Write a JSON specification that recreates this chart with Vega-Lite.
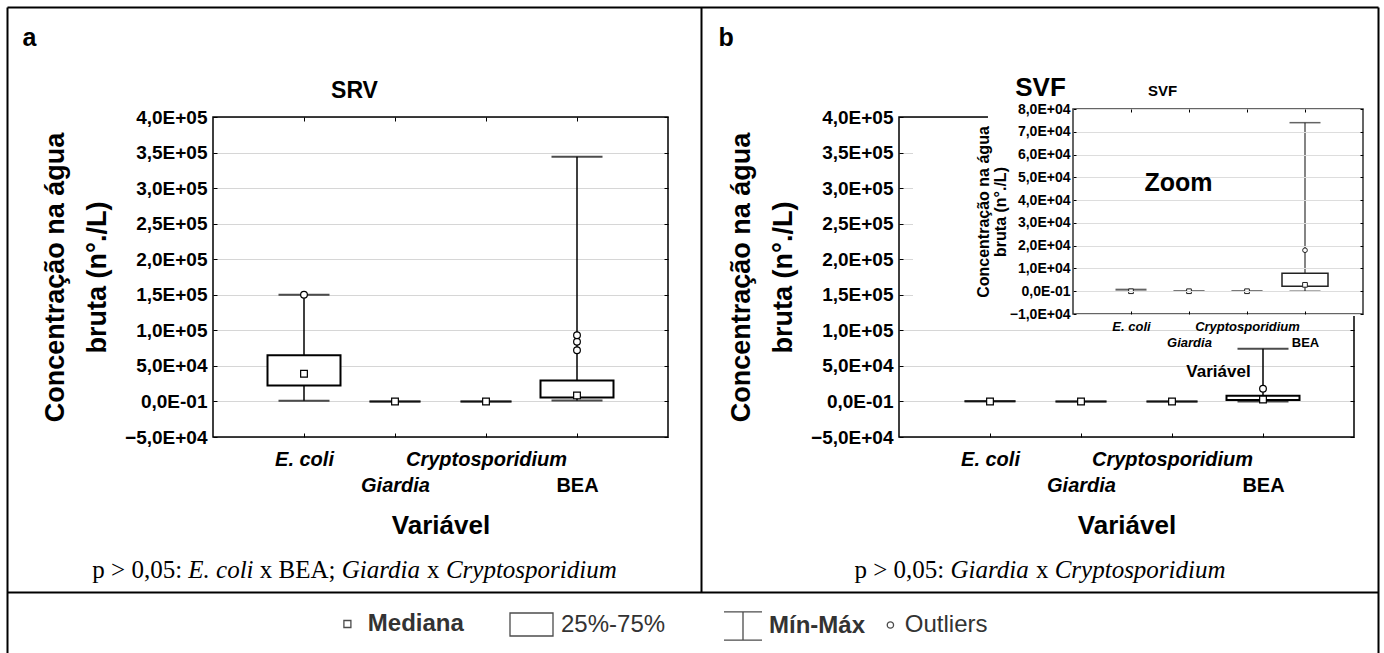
{
  "$schema": "https://vega.github.io/schema/vega-lite/v6.json",
  "width": 1371,
  "height": 646,
  "padding": {"left": 7, "top": 7, "right": 6, "bottom": 0},
  "autosize": {"type": "none"},
  "background": "white",
  "config": {
    "view": {"stroke": null},
    "font": "Liberation Sans",
    "axis": {"labelFont": "Liberation Sans", "titleFont": "Liberation Sans", "labelColor": "black", "titleColor": "black", "labelOverlap": false, "tickColor": "black", "tickWidth": 1, "domainColor": "black", "domainWidth": 2}
  },
  "datasets": {
    "caixas": [
      {"painel": "SRV", "variavel": "E. coli", "minimo": 1000, "q1": 22500, "mediana": 39000, "q3": 65000, "maximo": 150000},
      {"painel": "SRV", "variavel": "Giardia", "minimo": 0, "q1": 0, "mediana": 0, "q3": 0, "maximo": 0},
      {"painel": "SRV", "variavel": "Cryptosporidium", "minimo": 0, "q1": 0, "mediana": 0, "q3": 0, "maximo": 0},
      {"painel": "SRV", "variavel": "BEA", "minimo": 1500, "q1": 5600, "mediana": 8500, "q3": 29600, "maximo": 344000},
      {"painel": "SVF", "variavel": "E. coli", "minimo": 0, "q1": 0, "mediana": 0, "q3": 0, "maximo": 800},
      {"painel": "SVF", "variavel": "Giardia", "minimo": 0, "q1": 0, "mediana": 0, "q3": 0, "maximo": 0},
      {"painel": "SVF", "variavel": "Cryptosporidium", "minimo": 0, "q1": 0, "mediana": 0, "q3": 0, "maximo": 0},
      {"painel": "SVF", "variavel": "BEA", "minimo": 0, "q1": 2200, "mediana": 2800, "q3": 7900, "maximo": 74000}
    ],
    "outliers": [
      {"painel": "SRV", "variavel": "E. coli", "valor": 150000},
      {"painel": "SRV", "variavel": "BEA", "valor": 72000},
      {"painel": "SRV", "variavel": "BEA", "valor": 84000},
      {"painel": "SRV", "variavel": "BEA", "valor": 93000},
      {"painel": "SVF", "variavel": "BEA", "valor": 18000}
    ]
  },
  "resolve": {
    "scale": {"x": "independent", "y": "independent", "shape": "independent"},
    "axis": {"x": "independent", "y": "independent"},
    "legend": {"shape": "independent"}
  },
  "layer": [
    {
      "data": {"values": []},
      "mark": {"type": "point"},
      "encoding": {
        "x": {"datum": 0, "type": "quantitative", "scale": {"domain": [0, 1], "range": [0, 1371], "nice": false, "zero": false},
          "axis": {"orient": "top", "offset": -585, "domain": true, "ticks": false, "labels": false, "grid": false, "title": null}},
        "y": {"datum": 0, "type": "quantitative", "scale": {"domain": [0, 1], "range": [0, 585], "nice": false, "zero": false},
          "axis": {"orient": "left", "offset": -694, "domain": true, "ticks": false, "labels": false, "grid": false, "title": null}}
      }
    },
    {
      "resolve": {"scale": {"x": "independent"}, "axis": {"x": "independent", "y": "independent"}},
      "layer": [
        {
          "data": {"values": [{}]},
          "mark": {"type": "rect", "fill": "white", "fillOpacity": 0, "stroke": "black", "strokeWidth": 1.5},
          "encoding": {
            "x": {"datum": 0, "type": "quantitative", "scale": {"domain": [0, 5], "range": [206, 661], "nice": false, "zero": false},
              "axis": {"orient": "top", "offset": -110, "values": [1, 2, 3, 4], "domain": false, "labels": false, "grid": false, "ticks": true, "tickSize": -4,
                "title": "SRV", "titleX": 347, "titleY": -20, "titleAlign": "center", "titleBaseline": "alphabetic", "titleFontSize": 23, "titleFontWeight": "bold"}},
            "x2": {"datum": 5},
            "y": {"datum": -50000, "type": "quantitative", "scale": {"domain": [-50000, 400000], "range": [430, 110], "nice": false, "zero": false},
              "axis": {"orient": "right", "offset": -710, "values": [-50000, 0, 50000, 100000, 150000, 200000, 250000, 300000, 350000, 400000], "domain": false, "labels": false, "grid": false, "ticks": true, "tickSize": -4,
                "title": "a", "titleAngle": 0, "titleX": -646, "titleY": 38, "titleAlign": "left", "titleBaseline": "alphabetic", "titleFontSize": 25, "titleFontWeight": "bold"}},
            "y2": {"datum": 400000}
          }
        },
        {
          "data": {"name": "caixas"},
          "transform": [{"filter": "datum.painel === 'SRV'"}],
          "encoding": {
            "x": {"field": "variavel", "type": "nominal",
              "scale": {"type": "point", "domain": ["E. coli", "Giardia", "Cryptosporidium", "BEA"], "range": [206, 661], "padding": 1},
              "axis": {"orient": "bottom", "offset": -216, "domain": false, "grid": false, "ticks": true, "tickSize": -4,
                "labelFontSize": 20, "labelFontWeight": "bold", "labelBaseline": "top", "labelAngle": 0,
                "labelFontStyle": {"condition": {"test": "datum.value === 'BEA'", "value": "normal"}, "value": "italic"},
                "labelPadding": {"condition": {"test": "datum.value === 'Giardia' || datum.value === 'BEA'", "value": 42}, "value": 16},
                "title": "Variável", "titleY": 96, "titleBaseline": "alphabetic", "titleFontSize": 26, "titleFontWeight": "bold"}}
          },
          "layer": [
            {
              "mark": {"type": "rule", "stroke": "black", "strokeWidth": 1.5},
              "encoding": {
                "y": {"field": "minimo", "type": "quantitative", "scale": {"domain": [-50000, 400000], "range": [430, 110], "nice": false, "zero": false},
                  "axis": {"orient": "left", "offset": -206, "values": [-50000, 0, 50000, 100000, 150000, 200000, 250000, 300000, 350000, 400000],
                    "labelExpr": "datum.value === 0 ? '0,0E-01' : replace(replace(replace(format(datum.value, '.1e'), '.', ','), 'e+', 'E+0'), 'e-', 'E-0')",
                    "labelFontSize": 19, "labelFontWeight": "bold", "labelPadding": 10, "domain": false, "ticks": true, "tickSize": -4,
                    "grid": true, "gridColor": "#d6d6d6", "gridWidth": 1,
                    "title": ["Concentração na água", "bruta (n°./L)"], "titleFontSize": 27, "titleFontWeight": "bold", "titleAngle": -90,
                    "titleX": -150, "titleBaseline": "alphabetic", "titleLineHeight": 42}},
                "y2": {"field": "maximo"}
              }
            },
            {
              "mark": {"type": "tick", "orient": "horizontal", "size": 51, "thickness": 2, "color": "black"},
              "encoding": {"y": {"field": "maximo", "type": "quantitative"}}
            },
            {
              "mark": {"type": "tick", "orient": "horizontal", "size": 51, "thickness": 2, "color": "black"},
              "encoding": {"y": {"field": "minimo", "type": "quantitative"}}
            },
            {
              "transform": [{"filter": "datum.q3 > datum.q1"}],
              "mark": {"type": "bar", "size": 73, "fill": "white", "stroke": "black", "strokeWidth": 2},
              "encoding": {"y": {"field": "q1", "type": "quantitative"}, "y2": {"field": "q3"}}
            },
            {
              "mark": {"type": "point", "shape": "square", "size": 45, "filled": true, "fill": "white", "stroke": "black", "strokeWidth": 1.2, "opacity": 1},
              "encoding": {"y": {"field": "mediana", "type": "quantitative"}}
            },
            {
              "data": {"name": "outliers"},
              "transform": [{"filter": "datum.painel === 'SRV'"}],
              "mark": {"type": "point", "shape": "circle", "size": 45, "filled": true, "fill": "white", "stroke": "black", "strokeWidth": 1.2, "opacity": 1},
              "encoding": {"y": {"field": "valor", "type": "quantitative"}}
            }
          ]
        }
      ]
    },
    {
      "resolve": {"scale": {"x": "independent"}, "axis": {"x": "independent", "y": "independent"}},
      "layer": [
        {
          "data": {"values": [{}]},
          "mark": {"type": "rect", "fill": "white", "fillOpacity": 0, "stroke": "black", "strokeWidth": 1.5},
          "encoding": {
            "x": {"datum": 0, "type": "quantitative", "scale": {"domain": [0, 5], "range": [892, 1347], "nice": false, "zero": false},
              "axis": {"orient": "top", "offset": -110, "values": [1, 2, 3, 4], "domain": false, "labels": false, "grid": false, "ticks": true, "tickSize": -4,
                "title": "SVF", "titleX": 1033, "titleY": -22, "titleAlign": "center", "titleBaseline": "alphabetic", "titleFontSize": 26, "titleFontWeight": "bold"}},
            "x2": {"datum": 5},
            "y": {"datum": -50000, "type": "quantitative", "scale": {"domain": [-50000, 400000], "range": [430, 110], "nice": false, "zero": false},
              "axis": {"orient": "right", "offset": -24, "values": [-50000, 0, 50000, 100000, 150000, 200000, 250000, 300000, 350000, 400000], "domain": false, "labels": false, "grid": false, "ticks": true, "tickSize": -4,
                "title": "b", "titleAngle": 0, "titleX": -636, "titleY": 38, "titleAlign": "left", "titleBaseline": "alphabetic", "titleFontSize": 25, "titleFontWeight": "bold"}},
            "y2": {"datum": 400000}
          }
        },
        {
          "data": {"name": "caixas"},
          "transform": [{"filter": "datum.painel === 'SVF'"}],
          "encoding": {
            "x": {"field": "variavel", "type": "nominal",
              "scale": {"type": "point", "domain": ["E. coli", "Giardia", "Cryptosporidium", "BEA"], "range": [892, 1347], "padding": 1},
              "axis": {"orient": "bottom", "offset": -216, "domain": false, "grid": false, "ticks": true, "tickSize": -4,
                "labelFontSize": 20, "labelFontWeight": "bold", "labelBaseline": "top", "labelAngle": 0,
                "labelFontStyle": {"condition": {"test": "datum.value === 'BEA'", "value": "normal"}, "value": "italic"},
                "labelPadding": {"condition": {"test": "datum.value === 'Giardia' || datum.value === 'BEA'", "value": 42}, "value": 16},
                "title": "Variável", "titleY": 96, "titleBaseline": "alphabetic", "titleFontSize": 26, "titleFontWeight": "bold"}}
          },
          "layer": [
            {
              "mark": {"type": "rule", "stroke": "black", "strokeWidth": 1.5},
              "encoding": {
                "y": {"field": "minimo", "type": "quantitative", "scale": {"domain": [-50000, 400000], "range": [430, 110], "nice": false, "zero": false},
                  "axis": {"orient": "left", "offset": -892, "values": [-50000, 0, 50000, 100000, 150000, 200000, 250000, 300000, 350000, 400000],
                    "labelExpr": "datum.value === 0 ? '0,0E-01' : replace(replace(replace(format(datum.value, '.1e'), '.', ','), 'e+', 'E+0'), 'e-', 'E-0')",
                    "labelFontSize": 19, "labelFontWeight": "bold", "labelPadding": 10, "domain": false, "ticks": true, "tickSize": -4,
                    "grid": true, "gridColor": "#d6d6d6", "gridWidth": 1,
                    "title": ["Concentração na água", "bruta (n°./L)"], "titleFontSize": 27, "titleFontWeight": "bold", "titleAngle": -90,
                    "titleX": -150, "titleBaseline": "alphabetic", "titleLineHeight": 42}},
                "y2": {"field": "maximo"}
              }
            },
            {
              "mark": {"type": "tick", "orient": "horizontal", "size": 51, "thickness": 2, "color": "black"},
              "encoding": {"y": {"field": "maximo", "type": "quantitative"}}
            },
            {
              "mark": {"type": "tick", "orient": "horizontal", "size": 51, "thickness": 2, "color": "black"},
              "encoding": {"y": {"field": "minimo", "type": "quantitative"}}
            },
            {
              "transform": [{"filter": "datum.q3 > datum.q1"}],
              "mark": {"type": "bar", "size": 73, "fill": "white", "stroke": "black", "strokeWidth": 2},
              "encoding": {"y": {"field": "q1", "type": "quantitative"}, "y2": {"field": "q3"}}
            },
            {
              "mark": {"type": "point", "shape": "square", "size": 45, "filled": true, "fill": "white", "stroke": "black", "strokeWidth": 1.2, "opacity": 1},
              "encoding": {"y": {"field": "mediana", "type": "quantitative"}}
            },
            {
              "data": {"name": "outliers"},
              "transform": [{"filter": "datum.painel === 'SVF'"}],
              "mark": {"type": "point", "shape": "circle", "size": 45, "filled": true, "fill": "white", "stroke": "black", "strokeWidth": 1.2, "opacity": 1},
              "encoding": {"y": {"field": "valor", "type": "quantitative"}}
            }
          ]
        }
      ]
    },
    {
      "resolve": {"scale": {"x": "independent"}, "axis": {"x": "independent", "y": "independent"}},
      "layer": [
        {
          "data": {"values": [{}]},
          "layer": [
            {
              "mark": {"type": "rect", "fill": "white", "stroke": null},
              "encoding": {
                "x": {"datum": -2.759, "type": "quantitative", "scale": {"domain": [0, 5], "range": [1066, 1356], "nice": false, "zero": false}},
                "x2": {"datum": 5.155},
                "y": {"datum": -10900, "type": "quantitative", "scale": {"domain": [-10000, 80000], "range": [307, 102], "nice": false, "zero": false}},
                "y2": {"datum": 73000}
              }
            },
            {
              "mark": {"type": "rect", "fill": "white", "stroke": null},
              "encoding": {
                "x": {"datum": -1.466, "type": "quantitative"},
                "x2": {"datum": 5.155},
                "y": {"datum": 72000, "type": "quantitative"},
                "y2": {"datum": 84000}
              }
            },
            {
              "mark": {"type": "rect", "fill": "white", "stroke": "#333333", "strokeWidth": 1.5},
              "encoding": {
                "x": {"datum": 0, "type": "quantitative",
                  "axis": {"orient": "top", "offset": -102, "values": [1, 2, 3, 4], "domain": false, "labels": false, "grid": false, "ticks": true, "tickSize": -3, "zindex": 1,
                    "title": "SVF", "titleX": 1155, "titleY": -14, "titleAlign": "center", "titleBaseline": "alphabetic", "titleFontSize": 15, "titleFontWeight": "bold"}},
                "x2": {"datum": 5},
                "y": {"datum": -10000, "type": "quantitative",
                  "axis": {"orient": "right", "offset": -15, "values": [-10000, 0, 10000, 20000, 30000, 40000, 50000, 60000, 70000, 80000], "domain": false, "labels": false, "grid": false, "ticks": true, "tickSize": -3, "zindex": 1,
                    "title": "Zoom", "titleAngle": 0, "titleX": -185, "titleY": 183, "titleAlign": "center", "titleBaseline": "alphabetic", "titleFontSize": 25, "titleFontWeight": "bold"}},
                "y2": {"datum": 80000}
              }
            }
          ]
        },
        {
          "data": {"name": "caixas"},
          "transform": [{"filter": "datum.painel === 'SVF'"}],
          "encoding": {
            "x": {"field": "variavel", "type": "nominal",
              "scale": {"type": "point", "domain": ["E. coli", "Giardia", "Cryptosporidium", "BEA"], "range": [1066, 1356], "padding": 1},
              "axis": {"orient": "bottom", "offset": -339, "domain": false, "grid": false, "ticks": true, "tickSize": -3, "zindex": 1,
                "labelFontSize": 13, "labelFontWeight": "bold", "labelBaseline": "top", "labelAngle": 0,
                "labelFontStyle": {"condition": {"test": "datum.value === 'BEA'", "value": "normal"}, "value": "italic"},
                "labelPadding": {"condition": {"test": "datum.value === 'Giardia' || datum.value === 'BEA'", "value": 25}, "value": 9},
                "title": "Variável", "titleY": 62, "titleBaseline": "alphabetic", "titleFontSize": 17, "titleFontWeight": "bold"}}
          },
          "layer": [
            {
              "mark": {"type": "rule", "stroke": "#333333", "strokeWidth": 1.2},
              "encoding": {
                "y": {"field": "minimo", "type": "quantitative", "scale": {"domain": [-10000, 80000], "range": [307, 102], "nice": false, "zero": false},
                  "axis": {"orient": "left", "offset": -1066, "values": [-10000, 0, 10000, 20000, 30000, 40000, 50000, 60000, 70000, 80000], "zindex": 1,
                    "labelExpr": "datum.value === 0 ? '0,0E-01' : replace(replace(replace(format(datum.value, '.1e'), '.', ','), 'e+', 'E+0'), 'e-', 'E-0')",
                    "labelFontSize": 14, "labelFontWeight": "bold", "labelPadding": 6, "domain": false, "ticks": true, "tickSize": -3,
                    "grid": true, "gridColor": "#dddddd", "gridWidth": 1,
                    "title": ["Concentração na água", "bruta (n°./L)"], "titleFontSize": 16, "titleFontWeight": "bold", "titleAngle": -90,
                    "titleX": -85, "titleBaseline": "alphabetic", "titleLineHeight": 17}},
                "y2": {"field": "maximo"}
              }
            },
            {
              "mark": {"type": "tick", "orient": "horizontal", "size": 31, "thickness": 1.5, "color": "#222222"},
              "encoding": {"y": {"field": "maximo", "type": "quantitative"}}
            },
            {
              "mark": {"type": "tick", "orient": "horizontal", "size": 31, "thickness": 1.5, "color": "#222222"},
              "encoding": {"y": {"field": "minimo", "type": "quantitative"}}
            },
            {
              "transform": [{"filter": "datum.q3 > datum.q1"}],
              "mark": {"type": "bar", "size": 46, "fill": "white", "stroke": "#222222", "strokeWidth": 1.5},
              "encoding": {"y": {"field": "q1", "type": "quantitative"}, "y2": {"field": "q3"}}
            },
            {
              "mark": {"type": "point", "shape": "square", "size": 22, "filled": true, "fill": "white", "stroke": "#222222", "strokeWidth": 1, "opacity": 1},
              "encoding": {"y": {"field": "mediana", "type": "quantitative"}}
            },
            {
              "data": {"name": "outliers"},
              "transform": [{"filter": "datum.painel === 'SVF'"}],
              "mark": {"type": "point", "shape": "circle", "size": 22, "filled": true, "fill": "white", "stroke": "#222222", "strokeWidth": 1, "opacity": 1},
              "encoding": {"y": {"field": "valor", "type": "quantitative"}}
            }
          ]
        }
      ]
    },
    {
      "data": {"values": []},
      "mark": {"type": "point"},
      "encoding": {
        "x": {"datum": 0, "type": "quantitative", "scale": {"domain": [0, 1]},
          "axis": {"orient": "top", "offset": 0, "domain": true, "ticks": false, "labels": false, "grid": false,
            "title": "p > 0,05:", "titleX": 84.8, "titleY": 570, "titleAlign": "left", "titleBaseline": "alphabetic", "titleFont": "Liberation Serif", "titleFontSize": 25, "titleFontWeight": "normal", "titleFontStyle": "normal"}},
        "y": {"datum": 0, "type": "quantitative", "scale": {"domain": [0, 1]},
          "axis": {"orient": "left", "offset": 0, "domain": true, "ticks": false, "labels": false, "grid": false,
            "title": "E. coli", "titleAngle": 0, "titleX": 180.8, "titleY": 570, "titleAlign": "left", "titleBaseline": "alphabetic", "titleFont": "Liberation Serif", "titleFontSize": 25, "titleFontWeight": "normal", "titleFontStyle": "italic"}}
      }
    },
    {
      "data": {"values": []},
      "mark": {"type": "point"},
      "encoding": {
        "x": {"datum": 0, "type": "quantitative", "scale": {"domain": [0, 1]},
          "axis": {"orient": "top", "offset": 0, "domain": false, "ticks": false, "labels": false, "grid": false,
            "title": "x BEA;", "titleX": 252.3, "titleY": 570, "titleAlign": "left", "titleBaseline": "alphabetic", "titleFont": "Liberation Serif", "titleFontSize": 25, "titleFontWeight": "normal", "titleFontStyle": "normal"}},
        "y": {"datum": 0, "type": "quantitative", "scale": {"domain": [0, 1]},
          "axis": {"orient": "right", "offset": 0, "domain": true, "ticks": false, "labels": false, "grid": false,
            "title": "Giardia", "titleAngle": 0, "titleX": -1036.8, "titleY": 570, "titleAlign": "left", "titleBaseline": "alphabetic", "titleFont": "Liberation Serif", "titleFontSize": 25, "titleFontWeight": "normal", "titleFontStyle": "italic"}}
      }
    },
    {
      "data": {"values": []},
      "mark": {"type": "point"},
      "encoding": {
        "x": {"datum": 0, "type": "quantitative", "scale": {"domain": [0, 1]},
          "axis": {"orient": "top", "offset": 0, "domain": false, "ticks": false, "labels": false, "grid": false,
            "title": "x", "titleX": 419.6, "titleY": 570, "titleAlign": "left", "titleBaseline": "alphabetic", "titleFont": "Liberation Serif", "titleFontSize": 25, "titleFontWeight": "normal", "titleFontStyle": "normal"}},
        "y": {"datum": 0, "type": "quantitative", "scale": {"domain": [0, 1]},
          "axis": {"orient": "left", "offset": 0, "domain": false, "ticks": false, "labels": false, "grid": false,
            "title": "Cryptosporidium", "titleAngle": 0, "titleX": 438.4, "titleY": 570, "titleAlign": "left", "titleBaseline": "alphabetic", "titleFont": "Liberation Serif", "titleFontSize": 25, "titleFontWeight": "normal", "titleFontStyle": "italic"}}
      }
    },
    {
      "data": {"values": []},
      "mark": {"type": "point"},
      "encoding": {
        "x": {"datum": 0, "type": "quantitative", "scale": {"domain": [0, 1]},
          "axis": {"orient": "top", "offset": 0, "domain": false, "ticks": false, "labels": false, "grid": false,
            "title": "p > 0,05:", "titleX": 847, "titleY": 570, "titleAlign": "left", "titleBaseline": "alphabetic", "titleFont": "Liberation Serif", "titleFontSize": 25, "titleFontWeight": "normal", "titleFontStyle": "normal"}},
        "y": {"datum": 0, "type": "quantitative", "scale": {"domain": [0, 1]},
          "axis": {"orient": "left", "offset": 0, "domain": false, "ticks": false, "labels": false, "grid": false,
            "title": "Giardia", "titleAngle": 0, "titleX": 943, "titleY": 570, "titleAlign": "left", "titleBaseline": "alphabetic", "titleFont": "Liberation Serif", "titleFontSize": 25, "titleFontWeight": "normal", "titleFontStyle": "italic"}}
      }
    },
    {
      "data": {"values": []},
      "mark": {"type": "point"},
      "encoding": {
        "x": {"datum": 0, "type": "quantitative", "scale": {"domain": [0, 1]},
          "axis": {"orient": "top", "offset": 0, "domain": false, "ticks": false, "labels": false, "grid": false,
            "title": "x", "titleX": 1028.5, "titleY": 570, "titleAlign": "left", "titleBaseline": "alphabetic", "titleFont": "Liberation Serif", "titleFontSize": 25, "titleFontWeight": "normal", "titleFontStyle": "normal"}},
        "y": {"datum": 0, "type": "quantitative", "scale": {"domain": [0, 1]},
          "axis": {"orient": "left", "offset": 0, "domain": false, "ticks": false, "labels": false, "grid": false,
            "title": "Cryptosporidium", "titleAngle": 0, "titleX": 1047.2, "titleY": 570, "titleAlign": "left", "titleBaseline": "alphabetic", "titleFont": "Liberation Serif", "titleFontSize": 25, "titleFontWeight": "normal", "titleFontStyle": "italic"}}
      }
    },
    {
      "data": {"values": []},
      "mark": {"type": "point", "color": "black", "filled": false},
      "encoding": {
        "shape": {"datum": "Mediana", "type": "nominal", "scale": {"domain": ["Mediana"], "range": ["square"]},
          "legend": {"orient": "none", "legendX": 328.4, "legendY": 605, "title": null, "symbolSize": 49, "symbolStrokeWidth": 1.3,
            "labelFont": "Liberation Sans", "labelFontSize": 24, "labelFontWeight": "bold", "labelColor": "#333333", "labelOffset": 8.4}}
      }
    },
    {
      "data": {"values": []},
      "mark": {"type": "point", "color": "black", "filled": false},
      "encoding": {
        "shape": {"datum": "25%-75%", "type": "nominal", "scale": {"domain": ["25%-75%"], "range": ["M-1,-0.535H1V0.535H-1Z"]},
          "legend": {"orient": "none", "legendX": 502, "legendY": 595, "title": null, "symbolSize": 1849, "symbolStrokeWidth": 1.3,
            "labelFont": "Liberation Sans", "labelFontSize": 24, "labelFontWeight": "normal", "labelColor": "#333333", "labelOffset": 7}}
      }
    },
    {
      "data": {"values": []},
      "mark": {"type": "point", "color": "black", "filled": false},
      "encoding": {
        "shape": {"datum": "Mín-Máx", "type": "nominal", "scale": {"domain": ["Mín-Máx"], "range": ["M-1,-0.74H1M0,-0.74V0.74M-1,0.74H1"]},
          "legend": {"orient": "none", "legendX": 716, "legendY": 599, "title": null, "symbolSize": 1444, "symbolStrokeWidth": 1.3,
            "labelFont": "Liberation Sans", "labelFontSize": 24, "labelFontWeight": "bold", "labelColor": "#333333", "labelOffset": 6}}
      }
    },
    {
      "data": {"values": []},
      "mark": {"type": "point", "color": "black", "filled": false},
      "encoding": {
        "shape": {"datum": "Outliers", "type": "nominal", "scale": {"domain": ["Outliers"], "range": ["circle"]},
          "legend": {"orient": "none", "legendX": 871.4, "legendY": 606, "title": null, "symbolSize": 40, "symbolStrokeWidth": 1.3,
            "labelFont": "Liberation Sans", "labelFontSize": 24, "labelFontWeight": "normal", "labelColor": "#333333", "labelOffset": 2.4}}
      }
    }
  ]
}
